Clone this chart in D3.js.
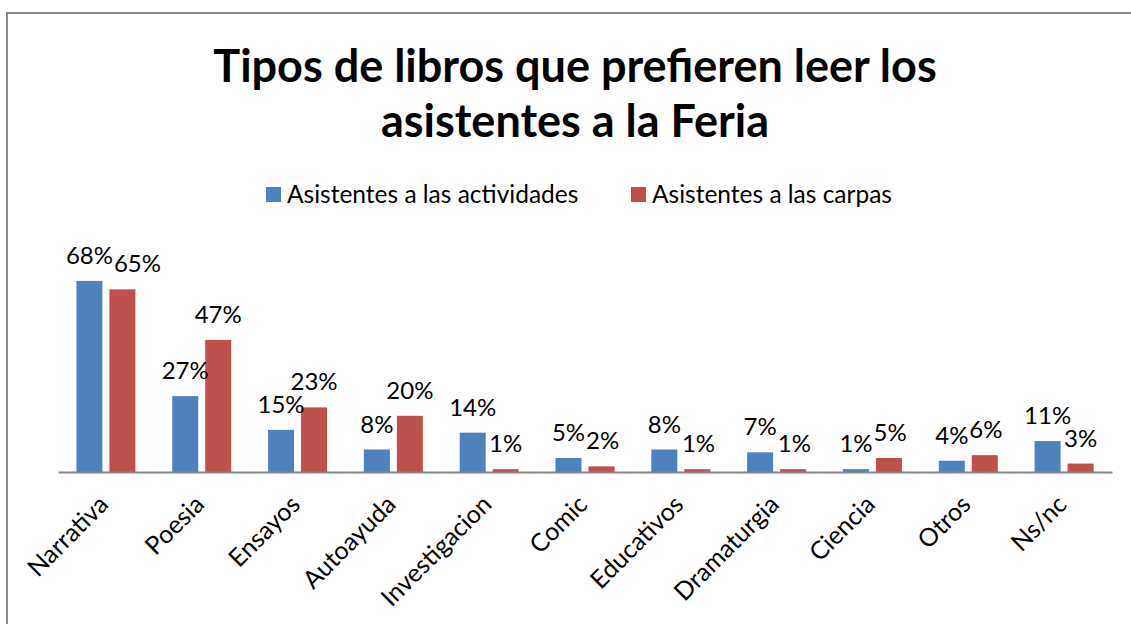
<!DOCTYPE html>
<html>
<head>
<meta charset="utf-8">
<script src="https://cdn.jsdelivr.net/npm/d3@7"></script>
<style>
    body { margin: 0; background: #fff; }
    svg text { font-family: Lato, "Open Sans", sans-serif; fill: #000; }
</style>
</head>
<body>
<div id="chart"></div>
<script>
// Dados do gráfico
const categories = ["Narrativa", "Poesia", "Ensayos", "Autoayuda", "Investigacion", "Comic",
    "Educativos", "Dramaturgia", "Ciencia", "Otros", "Ns/nc"];
const seriesNames = ["Asistentes a las actividades", "Asistentes a las carpas"];
const actividades = [68, 27, 15, 8, 14, 5, 8, 7, 1, 4, 11];
const carpas = [65, 47, 23, 20, 1, 2, 1, 1, 5, 6, 3];
const titleLines = ["Tipos de libros que prefieren leer los", "asistentes a la Feria"];

const colors = ["#4f81bd", "#c0504d"];

const width = 1131, height = 624;
const baseY = 472;

const svg = d3.select("#chart").append("svg")
    .attr("width", width)
    .attr("height", height);

// moldura
svg.append("rect")
    .attr("x", 7).attr("y", 13)
    .attr("width", 1200).attr("height", 700)
    .attr("fill", "none")
    .attr("stroke", "#898989")
    .attr("stroke-width", 2);

// título
svg.append("g").selectAll("text")
    .data(titleLines)
    .enter().append("text")
    .attr("x", 575)
    .attr("y", (d, i) => 82 + i * 55)
    .attr("text-anchor", "middle")
    .style("font-size", "45px")
    .style("font-weight", "bold")
    .text(d => d);

// legenda
const legendX = [266, 631];
const legend = svg.append("g").selectAll("g")
    .data(seriesNames)
    .enter().append("g")
    .attr("transform", (d, i) => `translate(${legendX[i]}, 187)`);
legend.append("rect")
    .attr("width", 15).attr("height", 15)
    .attr("fill", (d, i) => colors[i]);
legend.append("text")
    .attr("x", 21).attr("y", 16)
    .style("font-size", "24.5px")
    .text(d => d);

// escalas
const x0 = d3.scaleBand()
    .domain(categories)
    .range([58, 1112])
    .padding(0);

const x1 = d3.scaleBand()
    .domain(seriesNames)
    .range([-29.5, 29.5])
    .paddingInner(0.212);

const y = d3.scaleLinear()
    .domain([0, 70])
    .range([baseY, baseY - 70 * 2.81]);

const rows = categories.map((c, i) => ({
    category: c,
    values: [actividades[i], carpas[i]]
}));

const groups = svg.append("g").selectAll("g")
    .data(rows)
    .enter().append("g")
    .attr("transform", d => `translate(${x0(d.category) + x0.bandwidth() / 2}, 0)`);

groups.selectAll("rect")
    .data(d => d.values.map((v, i) => ({ series: seriesNames[i], value: v, idx: i })))
    .enter().append("rect")
    .attr("x", d => x1(d.series))
    .attr("width", x1.bandwidth())
    .attr("y", d => y(d.value))
    .attr("height", d => baseY - y(d.value))
    .attr("fill", d => colors[d.idx]);

// rótulos de dados (empurra o segundo se encostar no primeiro)
groups.each(function(d) {
    const g = d3.select(this);
    const labels = d.values.map((v, i) => g.append("text")
        .attr("x", x1(seriesNames[i]) + x1.bandwidth() / 2)
        .attr("y", y(v) - 17)
        .attr("text-anchor", "middle")
        .style("font-size", "24px")
        .text(v + "%"));
    const b0 = labels[0].node().getBBox();
    const b1 = labels[1].node().getBBox();
    const overlapX = b0.x + b0.width + 1 - b1.x;
    const overlapY = Math.abs(b0.y - b1.y) < b0.height * 0.7;
    if (overlapX > 0 && overlapY) {
        labels[1].attr("x", +labels[1].attr("x") + overlapX);
    }
});

// eixo X
const xAxis = svg.append("g")
    .attr("transform", `translate(0, ${baseY})`)
    .call(d3.axisBottom(x0).tickSizeInner(0).tickSizeOuter(0));

xAxis.select(".domain")
    .attr("stroke", "#868686")
    .attr("stroke-width", 2);

xAxis.selectAll("text")
    .attr("y", 0)
    .attr("dy", 0)
    .attr("text-anchor", "end")
    .attr("transform", "translate(4, 34) rotate(-45)")
    .style("font-size", "25px")
    .style("font-family", "Lato, sans-serif")
    .attr("fill", "#000");
</script>
</body>
</html>
